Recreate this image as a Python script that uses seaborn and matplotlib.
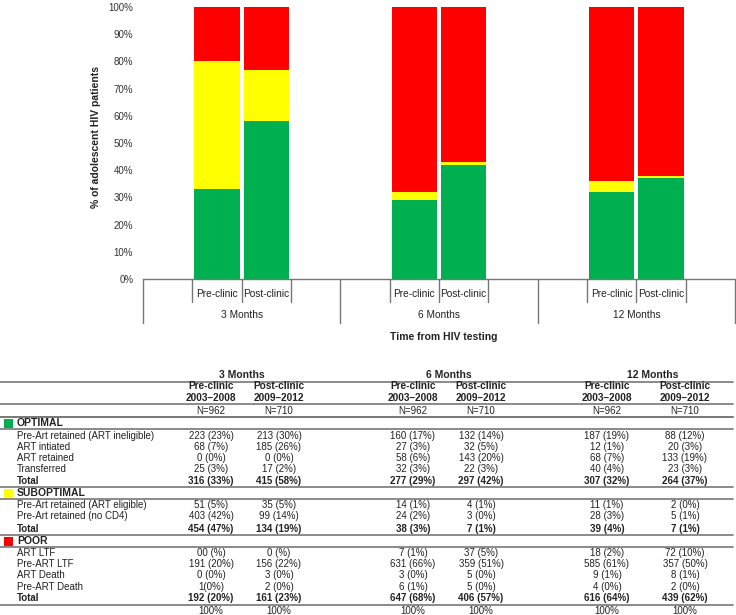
import matplotlib
matplotlib.use("Agg")
import numpy as np
import pandas as pd
import matplotlib.pyplot as plt
import seaborn as sns
from matplotlib.lines import Line2D
from matplotlib.patches import Rectangle
from matplotlib.ticker import PercentFormatter

# === Datos ===
times = ["3 Months", "6 Months", "12 Months"]
periods = ["Pre-clinic", "Post-clinic"]
years = ["2003–2008", "2009–2012"]
n_patients = ["N=962", "N=710"]

# % por columna: 3M pre, 3M post, 6M pre, 6M post, 12M pre, 12M post
optimal_pct = [33, 58, 29, 42, 32, 37]
suboptimal_pct = [47, 19, 3, 1, 4, 1]
poor_pct = [20, 23, 68, 57, 64, 62]

opt_labels = ["Pre-Art retained (ART ineligible)", "ART intiated", "ART retained", "Transferred"]
opt_values = [
    ["223 (23%)", "213 (30%)", "160 (17%)", "132 (14%)", "187 (19%)", "88 (12%)"],
    ["68 (7%)", "185 (26%)", "27 (3%)", "32 (5%)", "12 (1%)", "20 (3%)"],
    ["0 (0%)", "0 (0%)", "58 (6%)", "143 (20%)", "68 (7%)", "133 (19%)"],
    ["25 (3%)", "17 (2%)", "32 (3%)", "22 (3%)", "40 (4%)", "23 (3%)"],
]
opt_total = ["316 (33%)", "415 (58%)", "277 (29%)", "297 (42%)", "307 (32%)", "264 (37%)"]

sub_labels = ["Pre-Art retained (ART eligible)", "Pre-Art retained (no CD4)"]
sub_values = [
    ["51 (5%)", "35 (5%)", "14 (1%)", "4 (1%)", "11 (1%)", "2 (0%)"],
    ["403 (42%)", "99 (14%)", "24 (2%)", "3 (0%)", "28 (3%)", "5 (1%)"],
]
sub_total = ["454 (47%)", "134 (19%)", "38 (3%)", "7 (1%)", "39 (4%)", "7 (1%)"]

poor_labels = ["ART LTF", "Pre-ART LTF", "ART Death", "Pre-ART Death"]
poor_values = [
    ["00 (%)", "0 (%)", "7 (1%)", "37 (5%)", "18 (2%)", "72 (10%)"],
    ["191 (20%)", "156 (22%)", "631 (66%)", "359 (51%)", "585 (61%)", "357 (50%)"],
    ["0 (0%)", "3 (0%)", "3 (0%)", "5 (0%)", "9 (1%)", "8 (1%)"],
    ["1(0%)", "2 (0%)", "6 (1%)", "5 (0%)", "4 (0%)", "2 (0%)"],
]
poor_total = ["192 (20%)", "161 (23%)", "647 (68%)", "406 (57%)", "616 (64%)", "439 (62%)"]

GREEN, YELLOW, RED = "#00B050", "#FFFF00", "#FF0000"
LINE = "#777777"
TXT = "#222222"

# === Estilo ===
sns.set_style("white")
plt.rcParams["font.family"] = ["Liberation Sans", "DejaVu Sans"]

W, H = 736, 615
fig = plt.figure(figsize=(W / 100, H / 100), dpi=100)
ax_l, ax_r, ax_t, ax_b = 143, 735, 7, 279
ax_h = ax_b - ax_t
ax = fig.add_axes([ax_l / W, 1 - ax_b / H, (ax_r - ax_l) / W, ax_h / H])

# === Barras apiladas ===
order = []
for t in times:
    order += [f"{t} a"] + [f"{t}|{p}" for p in periods] + [f"{t} b"]

df = pd.DataFrame({
    "slot": [f"{t}|{p}" for t in times for p in periods],
    "optimal": optimal_pct,
    "suboptimal": suboptimal_pct,
    "poor": poor_pct,
})
df["top_sub"] = df["optimal"] + df["suboptimal"]
df["top_poor"] = df["top_sub"] + df["poor"]

for col, color in [("top_poor", RED), ("top_sub", YELLOW), ("optimal", GREEN)]:
    sns.barplot(data=df, x="slot", y=col, order=order, color=color, saturation=1,
                width=0.92, linewidth=0, errorbar=None, ax=ax)

ax.set_xlim(-0.5, len(order) - 0.5)
ax.set_ylim(0, 100)
ax.set_yticks(range(0, 101, 10))
ax.yaxis.set_major_formatter(PercentFormatter(decimals=0))
ax.tick_params(axis="y", length=0, pad=7, labelsize=7, labelcolor="#333333")
ax.set_xticks([])
ax.set_xlabel("")
for s in ["left", "top", "right"]:
    ax.spines[s].set_visible(False)
ax.spines["bottom"].set_color(LINE)
ax.spines["bottom"].set_linewidth(1)

ax.set_ylabel("% of adolescent HIV patients", fontsize=7.5, fontweight="bold", color=TXT)
ax.yaxis.set_label_coords((101 - ax_l) / (ax_r - ax_l), 1 - (137 - ax_t) / ax_h)

# cuadrícula de categorías bajo el eje
tr = ax.get_xaxis_transform()
for k in range(len(order) + 1):
    depth = 44 if k % 4 == 0 else 23
    ax.plot([k - 0.5, k - 0.5], [0, -depth / ax_h], transform=tr, clip_on=False,
            color=LINE, lw=1)
for i, s in enumerate(order):
    if "|" in s:
        ax.text(i, -15 / ax_h, s.split("|")[1], transform=tr, ha="center", va="center",
                fontsize=7.3, color=TXT)
for g, t in enumerate(times):
    ax.text(g * 4 + 1.5, -36 / ax_h, t, transform=tr, ha="center", va="center",
            fontsize=7.3, color=TXT)


def ftext(x, y, s, **kw):
    kw.setdefault("fontsize", 7)
    kw.setdefault("va", "center")
    kw.setdefault("color", TXT)
    fig.text(x / W, 1 - y / H, s, **kw)


def hline(y, x0=0, x1=733, lw=1.2):
    fig.add_artist(Line2D([x0 / W, x1 / W], [1 - y / H, 1 - y / H], color=LINE, lw=lw))


ftext(444, 337, "Time from HIV testing", ha="center", fontsize=7.5, fontweight="bold")

# === Tabla ===
col_x = [211, 279, 413, 481, 607, 685]
head_x = [242, 449, 653]
label_x = 17

for hx, t in zip(head_x, times):
    ftext(hx, 375, t, ha="center", fontsize=7.5, fontweight="bold")
for j, cx in enumerate(col_x):
    ftext(cx, 386, periods[j % 2], ha="center", fontsize=7.3, fontweight="bold")
    ftext(cx, 398, years[j % 2], ha="center", fontsize=7.3, fontweight="bold")
    ftext(cx, 411, n_patients[j % 2], ha="center")

for y in [382, 404, 417]:
    hline(y)


def section(name, color, y_head, labels, values, total, row_ys, y_total):
    hline(y_head - 6)
    hline(y_head + 6)
    fig.add_artist(Rectangle((4 / W, 1 - (y_head + 4.5) / H), 9 / W, 9 / H,
                             transform=fig.transFigure, color=color, lw=0))
    ftext(label_x, y_head, name, fontsize=7.5, fontweight="bold")
    for lab, vals, ry in zip(labels, values, row_ys):
        ftext(label_x, ry, lab)
        for cx, v in zip(col_x, vals):
            ftext(cx, ry, v, ha="center")
    ftext(label_x, y_total, "Total", fontweight="bold")
    for cx, v in zip(col_x, total):
        ftext(cx, y_total, v, ha="center", fontweight="bold")


section("OPTIMAL", GREEN, 423, opt_labels, opt_values, opt_total, [436, 447, 458, 469], 481)
section("SUBOPTIMAL", YELLOW, 493, sub_labels, sub_values, sub_total, [505, 516], 529)
section("POOR", RED, 541, poor_labels, poor_values, poor_total, [553, 564, 575, 587], 598)
hline(605)
for cx in col_x:
    ftext(cx, 611, "100%", ha="center")

fig.savefig("out.png", dpi=100)
